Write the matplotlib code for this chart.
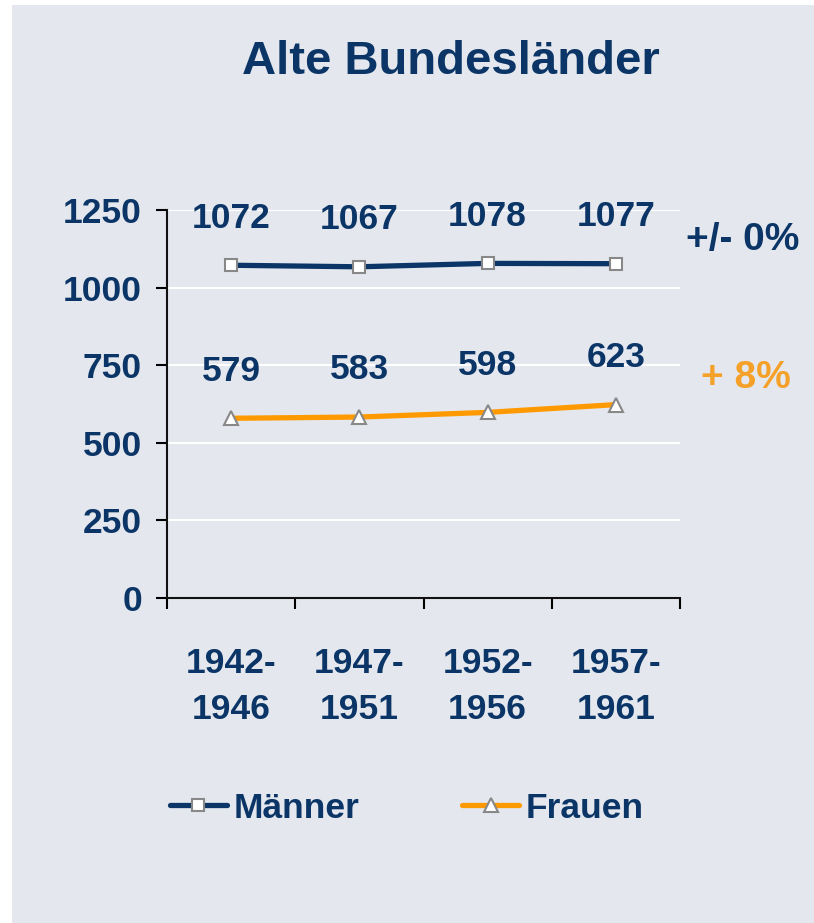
import matplotlib.pyplot as plt
from matplotlib.patches import Rectangle

plt.rcParams['font.family'] = ['Liberation Sans', 'DejaVu Sans']
plt.rcParams['font.weight'] = 'bold'

perioden = ['1942-\n1946', '1947-\n1951', '1952-\n1956', '1957-\n1961']
maenner = [1072, 1067, 1078, 1077]
frauen = [579, 583, 598, 623]
yticks = [0, 250, 500, 750, 1000, 1250]

navy = '#0b3566'
orange = '#ff9900'
bg = '#e4e8ee'
fs = 25.5

fig = plt.figure(figsize=(8.14, 9.23), dpi=100)
fig.patches.append(Rectangle((12 / 814, 0), 1, 1 - 5 / 923, transform=fig.transFigure,
                             facecolor=bg, edgecolor='none', zorder=-10))

ax = fig.add_axes([167 / 814, 1 - 598 / 923, (680 - 167) / 814, (598 - 210) / 923])
ax.set_facecolor(bg)

x = list(range(len(perioden)))
ax.plot(x, maenner, color=navy, lw=3.8, marker='s', ms=8.5, mfc='white', mec='#888888',
        mew=1.5, label='Männer', solid_capstyle='round')
ax.plot(x, frauen, color=orange, lw=3.8, marker='^', ms=10, mfc='white', mec='#888888',
        mew=1.5, label='Frauen', solid_capstyle='round')

# Wertebeschriftung ueber den Punkten
for serie in (maenner, frauen):
    for xi, v in zip(x, serie):
        ax.annotate(str(v), (xi, v), xytext=(0, 34), textcoords='offset points',
                    ha='center', va='center', fontsize=fs, color=navy)

ax.set_xlim(-0.5, len(perioden) - 0.5)
ax.set_ylim(0, 1250)
ax.set_yticks(yticks)
ax.set_yticklabels([str(t) for t in yticks], fontsize=fs, color=navy)
ax.set_xticks([i - 0.5 for i in range(len(perioden) + 1)])
ax.set_xticklabels([])
ax.set_xticks(x, minor=True)
ax.set_xticklabels(perioden, minor=True, fontsize=fs, color=navy, linespacing=1.5)
ax.tick_params(axis='x', which='minor', length=0, pad=35)
ax.tick_params(axis='x', which='major', length=8, width=1.5, direction='out')
ax.tick_params(axis='y', length=8, width=1.5, pad=10)
ax.grid(axis='y', color='white', lw=1.5)
ax.set_axisbelow(True)
for s in ['top', 'right']:
    ax.spines[s].set_visible(False)
for s in ['left', 'bottom']:
    ax.spines[s].set_linewidth(1.5)
    ax.spines[s].set_color('#111111')

fig.text(451 / 814, 1 - 62 / 923, 'Alte Bundesländer', ha='center', va='center',
         fontsize=34, color=navy)
fig.text(743 / 814, 1 - 240 / 923, '+/- 0%', ha='center', va='center',
         fontsize=28, color=navy)
fig.text(746 / 814, 1 - 378 / 923, '+ 8%', ha='center', va='center',
         fontsize=28, color='#f5a028')

leg = fig.legend(loc='center', bbox_to_anchor=(407 / 814, 1 - 808 / 923), ncol=2,
                 frameon=False, fontsize=fs, handlelength=1.6, handletextpad=0.2,
                 columnspacing=2.9)
for t in leg.get_texts():
    t.set_color(navy)

fig.savefig('out.png', dpi=100, facecolor='white')
